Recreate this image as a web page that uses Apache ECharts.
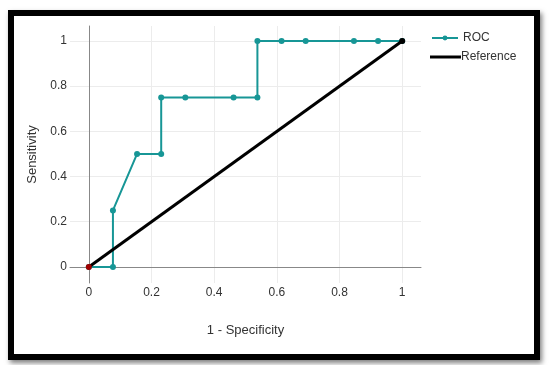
<!DOCTYPE html>
<html>
<head>
<meta charset="utf-8">
<script src="https://cdn.jsdelivr.net/npm/echarts@6/dist/echarts.min.js"></script>
<style>
  html, body { margin: 0; padding: 0; background: #fff; }
  .frame {
    position: absolute; left: 8px; top: 10px;
    width: 532px; height: 350px; box-sizing: border-box;
    border: 6px solid #000; background: #fff;
    box-shadow: 2px 3px 5px rgba(0, 0, 0, .5);
  }
  .myChart { position: absolute; left: 0; top: 0; width: 550px; height: 365px; }
</style>
</head>
<body>
<div class="frame"></div>
<div class="myChart"></div>
<script>
// 1 - specificity (x) and sensitivity (y) for the ROC curve
const rocX = [0, 0.077, 0.077, 0.154, 0.231, 0.231, 0.308, 0.462, 0.538, 0.538, 0.615, 0.692, 0.846, 0.923, 1];
const rocY = [0, 0, 0.25, 0.5, 0.5, 0.75, 0.75, 0.75, 0.75, 1, 1, 1, 1, 1, 1];
const refX = [0, 1];
const refY = [0, 1];
const ticks = [0, 0.2, 0.4, 0.6, 0.8, 1];

let myChart = echarts.init(document.querySelector('.myChart'));
let axisCommon = {
    type: 'value',
    axisLine: { onZero: true, lineStyle: { color: '#888', width: 1 } },
    axisTick: { show: false, customValues: ticks },
    splitLine: { show: true, lineStyle: { color: '#ececec' } },
    nameTextStyle: { color: '#333', fontSize: 13, fontFamily: 'Liberation Sans' }
};
let option = {
    animation: false,
    grid: { left: 70, right: 129, top: 26, bottom: 82 },
    legend: [
        {
            data: ['ROC'], left: 431, top: 32, padding: 0, itemWidth: 26, itemHeight: 6,
            textStyle: { color: '#333', fontSize: 12, fontFamily: 'Liberation Sans' }
        },
        {
            data: ['Reference'], left: 430, top: 51, padding: 0, itemWidth: 31, itemHeight: 3,
            icon: 'rect',
            textStyle: { color: '#333', fontSize: 12, fontFamily: 'Liberation Sans', padding: [0, 0, 0, -5] }
        }
    ],
    xAxis: Object.assign({}, axisCommon, {
        min: -0.06, max: 1.06,
        name: '1 - Specificity', nameLocation: 'middle', nameGap: 41,
        axisLabel: { customValues: ticks, margin: 4, color: '#333', fontSize: 12, fontFamily: 'Liberation Sans' }
    }),
    yAxis: Object.assign({}, axisCommon, {
        min: -0.071, max: 1.066,
        name: 'Sensitivity', nameLocation: 'middle', nameGap: 31,
        axisLabel: { customValues: ticks, margin: 3, color: '#333', fontSize: 12, fontFamily: 'Liberation Sans' }
    }),
    series: [
        {
            name: 'Reference', type: 'line',
            data: refX.map((x, i) => i === 0 ? { value: [x, refY[i]], itemStyle: { color: '#a00000' } } : [x, refY[i]]),
            symbol: 'circle', symbolSize: 6,
            lineStyle: { color: '#000', width: 3 },
            itemStyle: { color: '#000' }
        },
        {
            name: 'ROC', type: 'line',
            data: rocX.map((x, i) => [x, rocY[i]]),
            symbol: 'circle', symbolSize: 6, showSymbol: true,
            lineStyle: { color: '#179696', width: 2 },
            itemStyle: { color: '#179696' },
            z: 1
        }
    ]
};
myChart.setOption(option);
</script>
</body>
</html>
